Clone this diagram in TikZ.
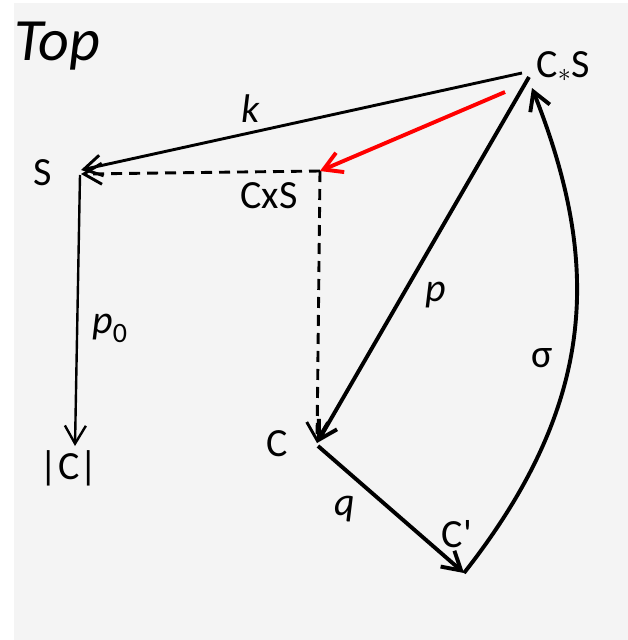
\documentclass[tikz,border=0pt]{standalone}
\usepackage{fontspec}
\setmainfont{Carlito}
\usetikzlibrary{arrows.meta}
\definecolor{bg}{HTML}{F4F4F4}
\definecolor{redarrow}{HTML}{FF0000}
\tikzset{
  lbl/.style={font=\fontsize{40}{44}\selectfont, inner sep=0pt, anchor=base},
  barb/.style={-{Straight Barb[length=18pt,width=21pt]}},
  thinarrow/.style={line width=2.9pt, barb},
  thickarrow/.style={line width=3.9pt, barb},
  dashline/.style={line width=2.9pt, dash pattern=on 11pt off 7pt, barb},
}
\begin{document}
\begin{tikzpicture}[x=1pt,y=-1pt]
\useasboundingbox (0,0) rectangle (628,640);
\fill[bg] (14,3) rectangle (628,640);
% labels
\node[lbl, anchor=base west, font=\fontsize{60}{62}\selectfont\itshape] (top) at (14,60) {Top};
\node[lbl] (lCS) at (563,77) {C\raisebox{-0.1em}{\scalebox{1.05}{$\ast$}}S};
\node[lbl] (lS) at (43,185) {S};
\node[lbl] (lCxS) at (269,208) {CxS};
\node[lbl] (lCC) at (69,479) {|C|};
\node[lbl] (lC) at (277,456) {C};
\node[lbl] (lCp) at (457,547) {C\textquotesingle};
\node[lbl] (lk) at (251,122) {\itshape k};
\node[lbl] (lp) at (436,301) {\itshape p};
\node[lbl] (lp0) at (110,333) {\itshape p\textsubscript{\upshape 0}};
\node[lbl] (lq) at (345,515) {\itshape q};
\node[lbl] (ls) at (542,367) {σ};
% vertices
\coordinate (kS) at (522,73);
\coordinate (kE) at (81,170);
\coordinate (pS) at (529,77);
\coordinate (rS) at (505,92);
\coordinate (X) at (320,171);
\coordinate (dE) at (81,174);
\coordinate (p0S) at (80,175);
\coordinate (CC) at (75,446);
\coordinate (C) at (317,443);
\coordinate (qS) at (318,446);
\coordinate (Cp) at (464,573);
\coordinate (sE) at (532,88);
% connectors
\draw[thinarrow] (kS) -- (kE);
\draw[dashline] (X) -- (dE);
\draw[dashline] (X) -- (C);
\draw[thickarrow, redarrow] (rS) -- (X);
\draw[thickarrow] (pS) -- (C);
\draw[line width=2.4pt, barb] (p0S) -- (CC);
\draw[thickarrow] (qS) -- (Cp);
\draw[thickarrow] (Cp) .. controls (600,400) and (600,260) .. (sE);
\end{tikzpicture}
\end{document}
